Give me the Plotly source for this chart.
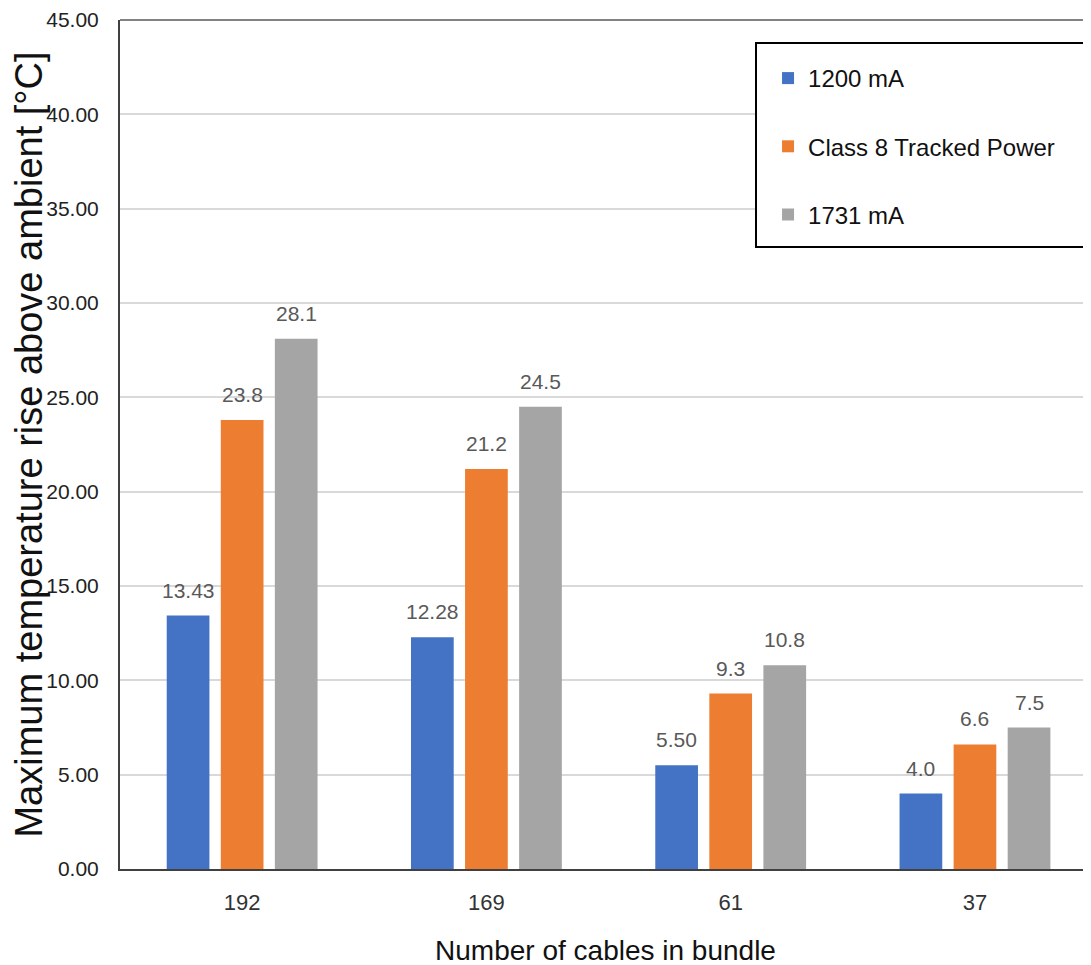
import plotly.graph_objects as go

categories = ["192", "169", "61", "37"]
series_names = ["1200 mA", "Class 8 Tracked Power", "1731 mA"]
values_1200 = [13.43, 12.28, 5.50, 4.0]
values_class8 = [23.8, 21.2, 9.3, 6.6]
values_1731 = [28.1, 24.5, 10.8, 7.5]
labels_1200 = ["13.43", "12.28", "5.50", "4.0"]
labels_class8 = ["23.8", "21.2", "9.3", "6.6"]
labels_1731 = ["28.1", "24.5", "10.8", "7.5"]
y_ticks = [0, 5, 10, 15, 20, 25, 30, 35, 40, 45]

colors = ["#4472C4", "#ED7D31", "#A5A5A5"]
FONT = "Liberation Sans, Arial, sans-serif"

BARGAP = 0.336
BARGROUPGAP = 0.21

all_vals = [values_1200, values_class8, values_1731]
all_labels = [labels_1200, labels_class8, labels_1731]

fig = go.Figure()
for i, (name, vals) in enumerate(zip(series_names, all_vals)):
    fig.add_trace(go.Bar(
        x=categories, y=vals, name=name,
        marker=dict(color=colors[i], line=dict(width=0)),
        legendgroup=name,
        hoverinfo="skip",
    ))

# data labels as annotations above bars
slot = (1 - BARGAP) / 3
annotations = []
for i, (vals, labs) in enumerate(zip(all_vals, all_labels)):
    for j, (v, lab) in enumerate(zip(vals, labs)):
        annotations.append(dict(
            x=j + (i - 1) * slot, y=v, xref="x", yref="y",
            text=lab, showarrow=False, yanchor="bottom", yshift=12,
            font=dict(family=FONT, size=21, color="#595959"),
        ))

fig.update_layout(
    width=1091, height=965,
    margin=dict(l=112, r=8, t=12, b=104, autoexpand=False),
    paper_bgcolor="white", plot_bgcolor="white",
    barmode="group", bargap=BARGAP, bargroupgap=BARGROUPGAP,
    annotations=annotations,
    legend=dict(
        x=0.6674, y=0.9576, xanchor="left", yanchor="top",
        borderwidth=0, bgcolor="rgba(0,0,0,0)",
        font=dict(family=FONT, size=24, color="#111111"),
        tracegroupgap=34, indentation=0,
    ),
    shapes=[
        dict(type="line", xref="paper", yref="paper", x0=0, x1=1, y0=1, y1=1,
             line=dict(color="#595959", width=1.5)),
        dict(type="rect", xref="paper", yref="paper", x0=0.655, x1=0.9928,
             y0=0.7326, y1=0.9729, layer="above", fillcolor="white",
             line=dict(color="#000000", width=2)),
    ],
)
fig.update_xaxes(
    type="category", range=[-0.5, 3.475], automargin=False,
    showline=True, linecolor="#404040", linewidth=2,
    ticks="", ticklabelstandoff=13,
    tickfont=dict(family=FONT, size=22, color="#333333"),
    title=dict(text="Number of cables in bundle", standoff=26,
               font=dict(family=FONT, size=28, color="#111111")),
    showgrid=False, zeroline=False,
)
fig.update_yaxes(
    range=[0, 45], tickvals=y_ticks, tickformat=".2f", automargin=False,
    showline=True, linecolor="#404040", linewidth=2,
    gridcolor="#D9D9D9", gridwidth=2,
    ticks="", ticklabelstandoff=15,
    tickfont=dict(family=FONT, size=21, color="#222222"),
    title=dict(text="Maximum temperature rise above ambient [°C]", standoff=8,
               font=dict(family=FONT, size=38, color="#111111")),
    zeroline=False,
)

fig.write_html("out.html")
